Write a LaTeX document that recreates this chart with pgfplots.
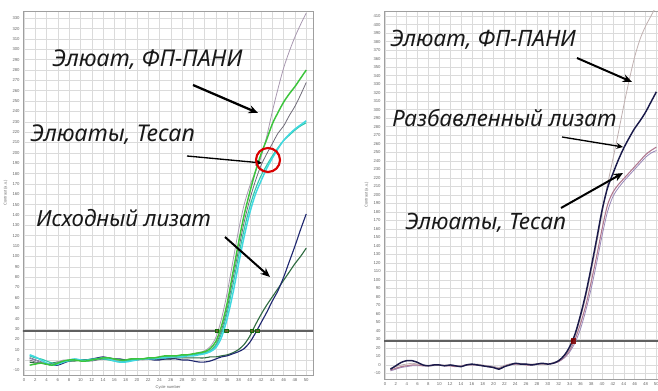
\documentclass[border=0pt]{standalone}
\usepackage{fontspec}
\setmainfont{Liberation Sans}
\newfontfamily\annot{Noto Sans}
\usepackage{pgfplots}
\pgfplotsset{compat=1.18}
\usetikzlibrary{arrows.meta}
\definecolor{cE}{HTML}{A898B0}
\definecolor{cA}{HTML}{3CC43C}
\definecolor{cF}{HTML}{6E6A78}
\definecolor{cB}{HTML}{40D8E0}
\definecolor{cB2}{HTML}{30C8A8}
\definecolor{cG}{HTML}{202870}
\definecolor{cH}{HTML}{2E6B40}
\definecolor{rGray}{HTML}{C0B0B0}
\definecolor{rNavy}{HTML}{1A1A4A}
\definecolor{rPink}{HTML}{B07890}
\definecolor{rLil}{HTML}{9888B8}
\pgfplotsset{pcr/.style={
  scale only axis,
  grid=major,
  major grid style={draw=gray!28, line width=0.35pt},
  axis line style={draw=gray!75, line width=0.7pt},
  tick style={draw=none},
  ticklabel style={font=\fontsize{3.2}{3.6}\selectfont, text=gray!80!black},
  label style={font=\fontsize{3}{3.4}\selectfont, text=gray!80!black},
  xtick distance=2, ytick distance=10,
  /pgf/number format/assume math mode=true,
  xticklabel style={yshift=1pt},
  yticklabel style={xshift=1pt},
  ylabel style={yshift=-3pt},
  xlabel style={yshift=4pt},
  every axis plot/.append style={smooth, line width=0.85pt},
}}
\begin{document}
\begin{tikzpicture}
\path[use as bounding box] (0,0) rectangle (493.5pt,293.25pt);
% ---------------- left panel ----------------
\begin{axis}[pcr, at={(17.25pt,12pt)}, anchor=south west,
  width=217.5pt, height=273pt,
  xmin=-0.18, xmax=51.2, ymin=-14.5, ymax=337,
  xlabel={Cycle number}, ylabel={Contrast (a.u.)}]
\addplot[gray!75!black, line width=1pt, sharp plot] coordinates {(-1,28) (52,28)};
\addplot[cH] coordinates {(1,-2)(2,-3)(3,-3)(4,-4)(5,-3)(6,-2)(7,-2)(8,-1)(9,-1)(10,0)(11,0)(12,0)(13,1)(14,1)(15,1)(16,1)(17,0)(18,0)(19,1)(20,1)(21,1)(22,1)(23,1)(24,1)(25,1)(26,1)(27,2)(28,2)(29,2)(30,2)(31,2)(32,2)(33,3)(34,3)(35,4)(36,5)(37,7)(38,10)(39,15)(40,23)(41,34)(42,44)(43,53)(44,61)(45,69)(46,77)(47,85)(48,93)(49,100)(50,108)};
\addplot[cG] coordinates {(1,2)(2,0)(3,-2)(4,-4)(5,-5)(6,-5)(7,-3)(8,-1)(9,0)(10,0)(11,0)(12,1)(13,2)(14,3)(15,2)(16,1)(17,1)(18,0)(19,0)(20,0)(21,1)(22,1)(23,0)(24,0)(25,1)(26,1)(27,1)(28,0)(29,0)(30,-1)(31,-2)(32,-2)(33,-1)(34,1)(35,3)(36,4)(37,6)(38,8)(39,11)(40,17)(41,26)(42,36)(43,46)(44,57)(45,67)(46,80)(47,95)(48,110)(49,126)(50,141)};
\addplot[cE, line width=0.6pt] coordinates {(1,2)(2,0)(3,-2)(4,-3)(5,-4)(6,-2)(7,0)(8,0)(9,1)(10,0)(11,-1)(12,0)(13,1)(14,2)(15,1)(16,0)(17,-1)(18,0)(19,1)(20,1)(21,0)(22,1)(23,2)(24,3)(25,3)(26,3)(27,4)(28,4)(29,5)(30,6)(31,7)(32,9)(33,13)(34,22)(35,40)(36,65)(37,95)(38,125)(39,150)(40,168)(41,182)(42,196)(43,216)(44,240)(45,262)(46,282)(47,298)(48,312)(49,324)(50,335)};
\addplot[cF, line width=0.6pt] coordinates {(1,0)(2,-2)(3,-3)(4,-4)(5,-5)(6,-4)(7,-2)(8,-1)(9,0)(10,0)(11,-1)(12,-1)(13,0)(14,1)(15,2)(16,1)(17,0)(18,-1)(19,0)(20,1)(21,1)(22,1)(23,2)(24,2)(25,3)(26,3)(27,3)(28,4)(29,4)(30,5)(31,6)(32,7)(33,9)(34,15)(35,29)(36,50)(37,78)(38,106)(39,133)(40,155)(41,173)(42,188)(43,199)(44,209)(45,219)(46,226)(47,236)(48,245)(49,256)(50,268)};
\addplot[cB2] coordinates {(1,4)(2,2)(3,1)(4,-1)(5,-3)(6,-3)(7,-2)(8,-1)(9,0)(10,0)(11,0)(12,1)(13,1)(14,1)(15,0)(16,-1)(17,-2)(18,-1)(19,0)(20,1)(21,1)(22,2)(23,2)(24,2)(25,3)(26,3)(27,4)(28,4)(29,5)(30,5)(31,6)(32,7)(33,9)(34,14)(35,26)(36,46)(37,72)(38,100)(39,126)(40,148)(41,165)(42,178)(43,188)(44,197)(45,205)(46,212)(47,217)(48,222)(49,226)(50,229)};
\addplot[cB, line width=1.1pt] coordinates {(1,5)(2,3)(3,0)(4,-3)(5,-5)(6,-4)(7,-2)(8,0)(9,1)(10,0)(11,-1)(12,0)(13,1)(14,2)(15,1)(16,-1)(17,-2)(18,-2)(19,-1)(20,0)(21,1)(22,1)(23,1)(24,2)(25,2)(26,3)(27,3)(28,3)(29,4)(30,4)(31,5)(32,6)(33,8)(34,12)(35,22)(36,40)(37,64)(38,92)(39,119)(40,142)(41,160)(42,173)(43,185)(44,195)(45,204)(46,212)(47,218)(48,223)(49,227)(50,231)};
\addplot[cA, line width=1.1pt] coordinates {(1,-5)(2,-4)(3,-3)(4,-4)(5,-5)(6,-3)(7,-1)(8,0)(9,0)(10,-1)(11,-1)(12,0)(13,1)(14,2)(15,2)(16,1)(17,0)(18,0)(19,1)(20,1)(21,1)(22,2)(23,2)(24,3)(25,4)(26,4)(27,4)(28,5)(29,5)(30,6)(31,7)(32,8)(33,11)(34,18)(35,33)(36,55)(37,84)(38,113)(39,140)(40,162)(41,182)(42,199)(43,213)(44,228)(45,239)(46,249)(47,257)(48,264)(49,272)(50,280)};
\addplot[only marks, mark=square*, mark size=1.4pt, draw=black!60!green, fill=olive!70!black, opacity=0.8] coordinates {(34.2,28)(35.9,28)(40.4,28)(41.4,28)};
\end{axis}
% ---------------- right panel ----------------
\begin{axis}[pcr, at={(288pt,9pt)}, anchor=south west,
  width=205.5pt, height=276pt,
  xmin=-0.18, xmax=50.3, ymin=-16.5, ymax=416,
  ylabel={Contrast (a.u.)}]
\addplot[gray!75!black, line width=1pt, sharp plot] coordinates {(-1,28) (52,28)};
\addplot[rLil, line width=0.6pt] coordinates {(1,-7)(2,-5)(3,-3)(4,-2)(5,-1)(6,-1)(7,-1)(8,-1)(9,0)(10,0)(11,-1)(12,-1)(13,-1)(14,-1)(15,0)(16,0)(17,0)(18,-1)(19,-1)(20,-2)(21,-3)(22,-1)(23,0)(24,1)(25,1)(26,1)(27,0)(28,1)(29,1)(30,1)(31,2)(32,4)(33,8)(34,15)(35,26)(36,42)(37,64)(38,90)(39,120)(40,152)(41,180)(42,198)(43,208)(44,216)(45,223)(46,230)(47,237)(48,244)(49,249)(50,252)};
\addplot[rPink, line width=0.8pt] coordinates {(1,-6)(2,-4)(3,-2)(4,-1)(5,0)(6,0)(7,-1)(8,-1)(9,0)(10,0)(11,-1)(12,-1)(13,-2)(14,-1)(15,0)(16,0)(17,0)(18,-1)(19,-2)(20,-3)(21,-4)(22,-1)(23,1)(24,1)(25,1)(26,0)(27,0)(28,1)(29,1)(30,1)(31,2)(32,4)(33,9)(34,17)(35,30)(36,48)(37,70)(38,98)(39,128)(40,160)(41,188)(42,203)(43,212)(44,219)(45,226)(46,233)(47,240)(48,247)(49,252)(50,256)};
\addplot[rGray, line width=0.6pt] coordinates {(1,-4)(2,-2)(3,0)(4,1)(5,2)(6,1)(7,0)(8,-1)(9,-1)(10,0)(11,0)(12,0)(13,-1)(14,-1)(15,0)(16,0)(17,1)(18,0)(19,-1)(20,-2)(21,-3)(22,-1)(23,1)(24,2)(25,2)(26,1)(27,1)(28,1)(29,1)(30,1)(31,3)(32,5)(33,10)(34,19)(35,33)(36,55)(37,80)(38,110)(39,143)(40,178)(41,212)(42,242)(43,273)(44,305)(45,335)(46,362)(47,383)(48,398)(49,410)(50,422)};
\addplot[rNavy, line width=1.1pt] coordinates {(1,-5)(2,-1)(3,3)(4,5)(5,5)(6,3)(7,0)(8,-1)(9,0)(10,0)(11,-1)(12,0)(13,-1)(14,-2)(15,0)(16,1)(17,0)(18,-1)(19,-2)(20,-3)(21,-5)(22,-2)(23,0)(24,2)(25,1)(26,1)(27,0)(28,1)(29,2)(30,1)(31,2)(32,5)(33,11)(34,21)(35,36)(36,58)(37,84)(38,115)(39,148)(40,182)(41,208)(42,225)(43,241)(44,255)(45,267)(46,278)(47,287)(48,297)(49,309)(50,321)};
\addplot[only marks, mark=square*, mark size=1.6pt, draw=red!50!black, fill=red!50!black, opacity=0.85] coordinates {(34.7,28)};
\end{axis}
% ---------------- annotations (pixel coordinates) ----------------
\begin{scope}[shift={(0pt,293.25pt)}, x=0.75pt, y=-0.75pt,
  lab/.style={anchor=west, inner sep=0pt, font=\annot\itshape\fontsize{17.3}{19}\selectfont, text=black!90},
  labr/.style={lab, font=\annot\itshape\fontsize{16.9}{19}\selectfont}]
\node[lab] at (52,60) {Элюат, ФП-ПАНИ};
\node[lab] at (30,135) {Элюаты, Tecan};
\node[lab, font=\annot\itshape\fontsize{16.7}{19}\selectfont] at (36,218) {Исходный лизат};
\draw[line width=1.7pt, -{Stealth[length=7pt,width=6pt]}] (193,85) -- (258,113);
\draw[line width=1.0pt, -{Stealth[length=5pt,width=4.5pt]}] (187,156) -- (262,163);
\draw[line width=1.5pt, -{Stealth[length=7pt,width=6pt]}] (225,237) -- (270,277);
\draw[red!85!black, line width=1.6pt] (268,160) circle[radius=9pt];
\node[labr] at (390,40) {Элюат, ФП-ПАНИ};
\node[labr] at (392,118) {Разбавленный лизат};
\node[labr] at (405,223) {Элюаты, Tecan};
\draw[line width=1.5pt, -{Stealth[length=7pt,width=6pt]}] (577,58) -- (632,82);
\draw[line width=1.0pt, -{Stealth[length=5pt,width=4.5pt]}] (562,137) -- (623,147);
\draw[line width=1.5pt, -{Stealth[length=7pt,width=6pt]}] (561,208) -- (623,173);
\end{scope}
\end{tikzpicture}
\end{document}
